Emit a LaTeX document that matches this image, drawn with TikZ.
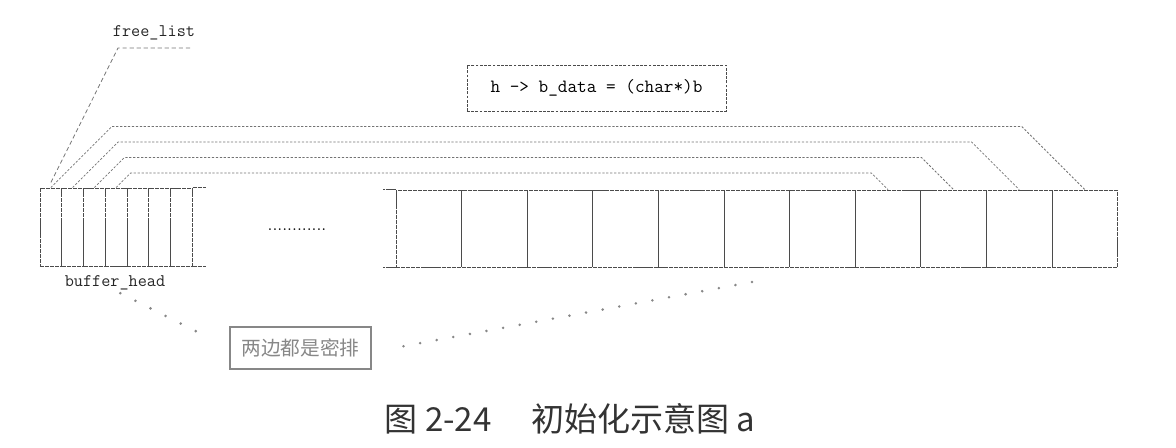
\documentclass[tikz,border=0pt]{standalone}
\usepackage{fontspec}
\usepackage{tikz}
\usetikzlibrary{positioning, calc}
\newfontfamily\cjk{Noto Sans CJK SC}
\definecolor{linegray}{RGB}{115,115,115}
\definecolor{cellgray}{RGB}{75,75,75}
\definecolor{notegray}{RGB}{135,135,135}

\begin{document}
\begin{tikzpicture}[
    x=0.025cm, y=-0.025cm,
    lcell/.style={rectangle, draw=cellgray, dash pattern=on 3pt off 0.6pt, line width=0.6pt, minimum width=0.544cm, minimum height=1.95cm, inner sep=0pt},
    rcell/.style={lcell, minimum width=1.64cm, minimum height=1.925cm},
    edge/.style={draw=cellgray, dash pattern=on 3pt off 0.6pt, line width=0.6pt},
    link/.style={draw=linegray, dash pattern=on 1.6pt off 1.2pt, line width=0.55pt},
    flink/.style={draw=linegray, dash pattern=on 3pt off 2pt, line width=0.55pt},
    dotline/.style={draw=notegray, line width=2pt, dash pattern=on 0pt off 12pt, line cap=round},
    tag/.style={font=\fontsize{12.6}{15}\selectfont\ttfamily, text=black!85, inner sep=0pt},
    hbox/.style={rectangle, draw=cellgray, dash pattern=on 2pt off 1pt, line width=0.6pt, minimum width=6.475cm, minimum height=1.15cm, font=\fontsize{13.3}{16}\selectfont\ttfamily},
    note/.style={rectangle, draw=notegray, line width=1pt, text=notegray, minimum width=3.525cm, minimum height=1.05cm, font=\fontsize{14}{16}\cjk}
]
    \useasboundingbox (0,0) rectangle (1176,447);

    % buffer heads (left) and data blocks (right)
    \foreach \i in {1,...,7}
        \node[lcell] (l\i) at ({40+21.75*(\i-0.5)}, 227) {};
    \foreach \i in {1,...,11}
        \node[rcell] (r\i) at ({396+65.6*(\i-0.5)}, 228.5) {};
    \draw[edge] (l7.north east) -- ++(13,0);
    \draw[edge] (l7.south east) -- ++(13,0);
    \draw[edge] (r1.north west) -- ++(-13,0);
    \draw[edge] (r1.south west) -- ++(-13,0);
    \node[font=\fontsize{12.8}{15}\selectfont] (gap) at (297,230) {............};

    % b_data links
    \foreach \i/\off in {1/61, 2/45.5, 3/30, 4/14.5} {
        \pgfmathtruncatemacro\j{12-\i}
        \draw[link] (l\i.north) -- ++(\off,-\off) -- ($(r\j.north)+({-\off-2},{-\off-2})$) -- (r\j.north);
    }
    \node[hbox] (bdata) at (596.5,88) {h -> b\_data = (char*)b};

    % free list
    \node[tag] (fl) at (154,33) {free\_list};
    \coordinate (flend) at (190,48);
    \coordinate (flbend) at (118,48);
    \draw[flink] (flend) -- (flbend) -- ([yshift=0.125cm]l1.north);

    % note
    \node[tag] (bh) at (115,283) {buffer\_head};
    \node[note] (note) at (300.5,348) {两边都是密排};
    \coordinate (rdot) at (752,282);
    \draw[dotline, shorten <=0.15cm, shorten >=0.6cm] (bh.south) -- (note.west);
    \draw[dotline] (rdot) -- ([xshift=0.55cm]note.east);

    % caption
    \node[font=\fontsize{23.5}{28}\cjk, text=black!80] (cap) at (570,419) {图 2-24\hspace{1.2em}初始化示意图 a};
\end{tikzpicture}
\end{document}
